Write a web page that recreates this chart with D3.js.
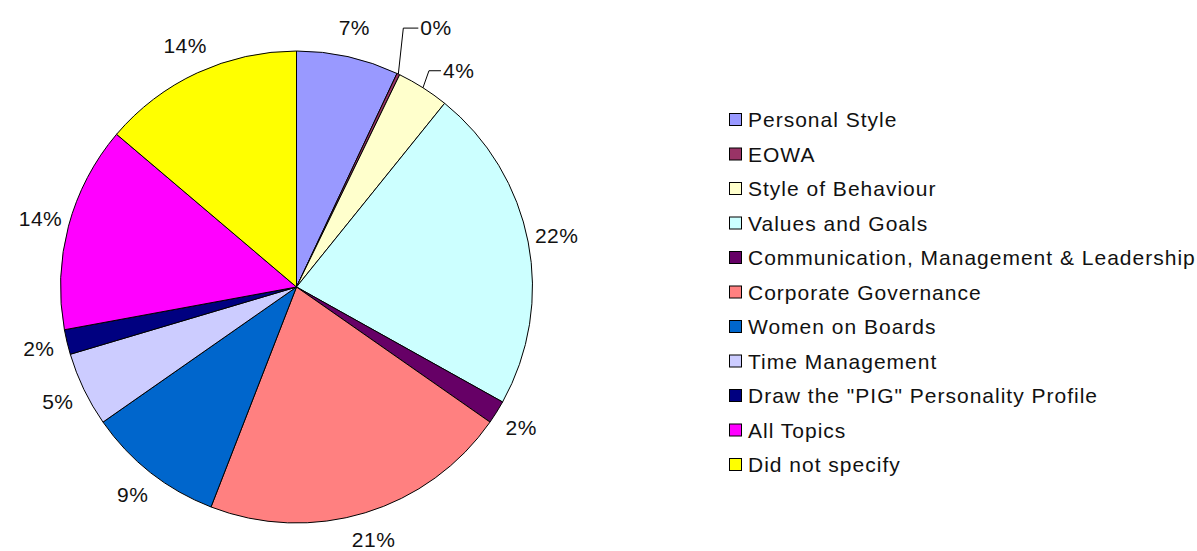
<!DOCTYPE html>
<html>
<head>
<meta charset="utf-8">
<script src="https://cdn.jsdelivr.net/npm/d3@7/dist/d3.min.js"></script>
<style>
  html, body { margin: 0; padding: 0; background: #fff; }
  svg { display: block; }
  text { font-family: "Liberation Sans", Arial, sans-serif; fill: #111; }
</style>
</head>
<body>
<svg id="chart" width="1197" height="551"></svg>
<script>
// ---- data ----
const categories = [
  "Personal Style",
  "EOWA",
  "Style of Behaviour",
  "Values and Goals",
  "Communication, Management & Leadership",
  "Corporate Governance",
  "Women on Boards",
  "Time Management",
  "Draw the \"PIG\" Personality Profile",
  "All Topics",
  "Did not specify"
];
const values = [7.0, 0.2, 3.6, 22.3, 1.6, 21.2, 9.4, 5.1, 1.7, 14.1, 13.8];
const colors = ["#9999FF", "#993366", "#FFFFCC", "#CCFFFF", "#660066", "#FF8080",
                "#0066CC", "#CCCCFF", "#000080", "#FF00FF", "#FFFF00"];

// ---- layout ----
const svg = d3.select("#chart");
const cx = 296.5, cy = 287, r = 236, labelR = 265;
const total = d3.sum(values);
const fmt = v => Math.round(v / total * 100) + "%";

const pie = d3.pie().sort(null).value(d => d)(values);
const arc = d3.arc().innerRadius(0).outerRadius(r);

const g = svg.append("g").attr("transform", `translate(${cx},${cy})`);

g.selectAll("path.slice")
  .data(pie)
  .enter().append("path")
  .attr("class", "slice")
  .attr("d", arc)
  .attr("fill", (d, i) => colors[i])
  .attr("stroke", "#000")
  .attr("stroke-width", 1)
  .attr("stroke-linejoin", "round");

// labels with leader lines for the two small slices (manually moved, as in the original)
const leaderOffsets = { 1: { ex: 5, tx: 22, ty: -46 }, 2: { ex: 6, tx: 20, ty: -17 } };

const labelFont = 21;
pie.forEach((d, i) => {
  const mid = (d.startAngle + d.endAngle) / 2;
  const lo = leaderOffsets[i];
  if (lo) {
    const ax = r * Math.sin(mid), ay = -r * Math.cos(mid);
    const tx = ax + lo.tx, ty = ay + lo.ty;
    g.append("polyline")
      .attr("points", [[ax, ay], [ax + lo.ex, ty], [tx - 2, ty]].map(p => p.join(",")).join(" "))
      .attr("fill", "none")
      .attr("stroke", "#000")
      .attr("stroke-width", 1);
    g.append("text")
      .attr("x", tx).attr("y", ty)
      .attr("dy", "0.35em")
      .attr("text-anchor", "start")
      .attr("font-size", labelFont)
      .attr("letter-spacing", 0.5)
      .text(fmt(d.value));
  } else {
    g.append("text")
      .attr("x", labelR * Math.sin(mid))
      .attr("y", -labelR * Math.cos(mid))
      .attr("dy", "0.33em")
      .attr("text-anchor", "middle")
      .attr("font-size", labelFont)
      .attr("letter-spacing", 0.5)
      .text(fmt(d.value));
  }
});

// ---- legend ----
const legX = 729, legY0 = 127, legStep = 34.5, box = 12;
const leg = svg.append("g");
categories.forEach((c, i) => {
  const y = legY0 + i * legStep;
  leg.append("rect")
    .attr("x", legX + 0.5).attr("y", y - 13.5)
    .attr("width", box).attr("height", box)
    .attr("fill", colors[i])
    .attr("stroke", "#000").attr("stroke-width", 1);
  leg.append("text")
    .attr("x", legX + 19).attr("y", y)
    .attr("font-size", 21)
    .attr("letter-spacing", 1)
    .text(c);
});
</script>
</body>
</html>
